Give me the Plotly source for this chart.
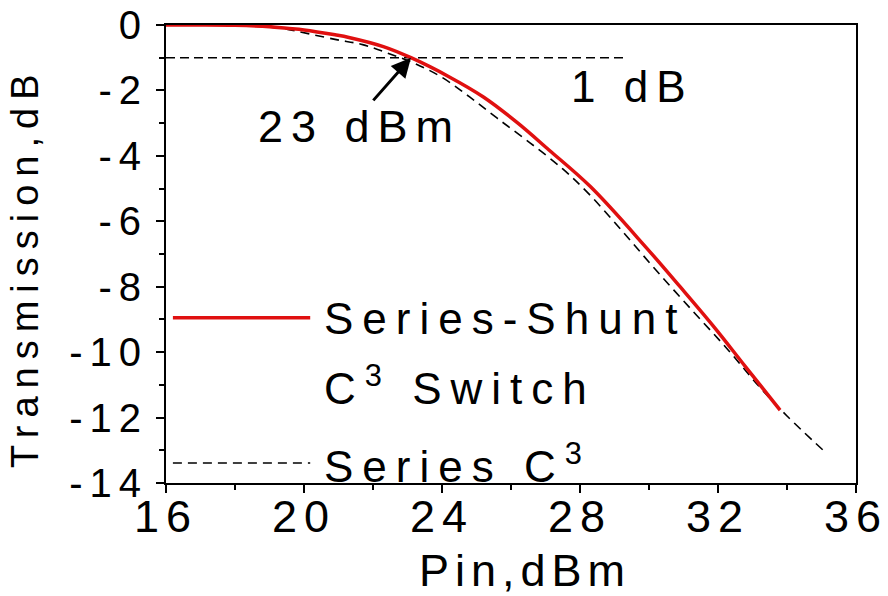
import plotly.graph_objects as go

# ---- data ----
pin_shunt = [16, 17, 18, 19, 19.5, 20, 20.9, 21.3, 22.3, 23.1, 24.2, 25.2,
             26.2, 27.1, 28.3, 29.9, 30.9, 31.9, 32.8, 33.8]
tr_shunt = [0, 0, -0.01, -0.05, -0.1, -0.15, -0.3, -0.38, -0.66, -1.0, -1.58,
            -2.2, -3.0, -3.82, -4.94, -6.78, -8.0, -9.25, -10.45, -11.77]

pin_series = [16, 17, 18, 19, 19.5, 20.9, 21.7, 22.4, 23.2, 24.0, 24.8, 25.6, 26.55,
              27.5, 28.2, 29.2, 30.2, 31.3, 32.3, 33.2, 34.0, 35.05]
tr_series = [0, 0, -0.02, -0.06, -0.13, -0.44, -0.6, -0.85, -1.17, -1.6, -2.2, -2.85,
             -3.6, -4.4, -5.1, -6.27, -7.49, -8.78, -9.94, -11.06, -11.95, -13.0]

ref_x = [16, 29.3]          # 1 dB reference line extent
ref_level = -1.0            # 1 dB level
p1db_x, p1db_y = 23.1, -1.0 # compression point
arrow_tail = (21.97, -2.35)

xtick_vals = [16, 20, 24, 28, 32, 36]
xtick_labels = ["16", "20", "24", "28", "32", "36"]
xminor_vals = [18, 22, 26, 30, 34]
ytick_vals = [0, -2, -4, -6, -8, -10, -12, -14]
ytick_labels = ["0", "-2", "-4", "-6", "-8", "-10", "-12", "-14"]
yminor_vals = [-1, -3, -5, -7, -9, -11, -13]

name_shunt = "Series-Shunt<br>C<sup>3</sup> Switch"
name_series = "Series C<sup>3</sup>"
x_title = "Pin,dBm"
y_title = "Transmission,dB"
label_1db = "1 dB"
label_p1db = "23 dBm"

FONT = "Arial, Liberation Sans, sans-serif"


def sp(t, ls):
    return f'<span style="letter-spacing:{ls}px">{t}</span>'


fig = go.Figure()
fig.add_trace(go.Scatter(x=ref_x, y=[ref_level, ref_level], mode="lines",
                         line=dict(color="black", width=1.5, dash="9px,5px"),
                         showlegend=False, hoverinfo="skip"))
fig.add_trace(go.Scatter(x=pin_series, y=tr_series, mode="lines", line_shape="spline",
                         line=dict(color="black", width=1.6, dash="9px,6px"),
                         name="Series C3", showlegend=False))
fig.add_trace(go.Scatter(x=pin_shunt, y=tr_shunt, mode="lines", line_shape="spline",
                         line=dict(color="#e01010", width=3.5),
                         name="Series-Shunt C3 Switch", showlegend=False))

axis_common = dict(showline=True, linecolor="black", linewidth=2, mirror=True,
                   ticks="outside", tickwidth=2, tickcolor="black", ticklen=8,
                   showgrid=False, zeroline=False, tickmode="array",
                   ticklabeloverflow="allow", automargin=False)

fig.update_xaxes(range=[16, 36], tickvals=xtick_vals,
                 ticktext=[sp(t, 7) for t in xtick_labels],
                 tickfont=dict(family=FONT, size=45, color="black"),
                 ticklabelstandoff=-15,
                 minor=dict(tickvals=xminor_vals, ticks="outside", ticklen=5,
                            tickwidth=2, tickcolor="black"),
                 **axis_common)
fig.update_yaxes(range=[-14, 0], tickvals=ytick_vals,
                 ticktext=[sp(t, 7) for t in ytick_labels],
                 tickfont=dict(family=FONT, size=40, color="black"),
                 minor=dict(tickvals=yminor_vals, ticks="outside", ticklen=5,
                            tickwidth=2, tickcolor="black"),
                 **axis_common)

anns = []
# axis titles
anns.append(dict(text=sp(x_title, 6), xref="paper", yref="paper", x=0.52, y=-0.19,
                 xanchor="center", yanchor="middle", showarrow=False,
                 font=dict(family=FONT, size=45, color="black")))
anns.append(dict(text=sp(y_title, 8), xref="paper", yref="paper", x=-0.204, y=0.472,
                 xanchor="center", yanchor="middle", textangle=-90, showarrow=False,
                 font=dict(family=FONT, size=38, color="black")))
# 1 dB label
anns.append(dict(text=sp(label_1db, 8), x=27.67, y=-1.87, xref="x", yref="y",
                 xanchor="left", yanchor="middle", showarrow=False,
                 font=dict(family=FONT, size=44, color="black")))
# 23 dBm label
anns.append(dict(text=sp(label_p1db, 8), x=18.6, y=-3.1, xref="x", yref="y",
                 xanchor="left", yanchor="middle", showarrow=False,
                 font=dict(family=FONT, size=45, color="black")))
# arrow to compression point
anns.append(dict(text="", x=p1db_x, y=p1db_y, ax=arrow_tail[0], ay=arrow_tail[1],
                 xref="x", yref="y", axref="x", ayref="y", showarrow=True,
                 arrowhead=2, arrowsize=1.3, arrowwidth=3, arrowcolor="black",
                 standoff=0, startstandoff=0))
# legend texts
lines_shunt = name_shunt.split("<br>")
anns.append(dict(text=sp(lines_shunt[0], 9), xref="paper", yref="paper", x=0.226, y=0.36,
                 xanchor="left", yanchor="middle", showarrow=False,
                 font=dict(family=FONT, size=44, color="black")))
anns.append(dict(text=sp(lines_shunt[1], 9), xref="paper", yref="paper", x=0.226, y=0.212,
                 xanchor="left", yanchor="middle", showarrow=False,
                 font=dict(family=FONT, size=44, color="black")))
anns.append(dict(text=sp(name_series, 9), xref="paper", yref="paper", x=0.226, y=0.0415,
                 xanchor="left", yanchor="middle", showarrow=False,
                 font=dict(family=FONT, size=44, color="black")))

shapes = [
    dict(type="line", xref="paper", yref="paper", x0=0.010, x1=0.209, y0=0.361, y1=0.361,
         line=dict(color="#e01010", width=3.5)),
    dict(type="line", xref="paper", yref="paper", x0=0.010, x1=0.209, y0=0.0437, y1=0.0437,
         line=dict(color="black", width=1.6, dash="9px,6px")),
]

fig.update_layout(width=888, height=596, margin=dict(l=166, r=32, t=25, b=113),
                  paper_bgcolor="white", plot_bgcolor="white",
                  annotations=anns, shapes=shapes, showlegend=False,
                  font=dict(family=FONT, color="black"))

fig.write_html("out.html")
